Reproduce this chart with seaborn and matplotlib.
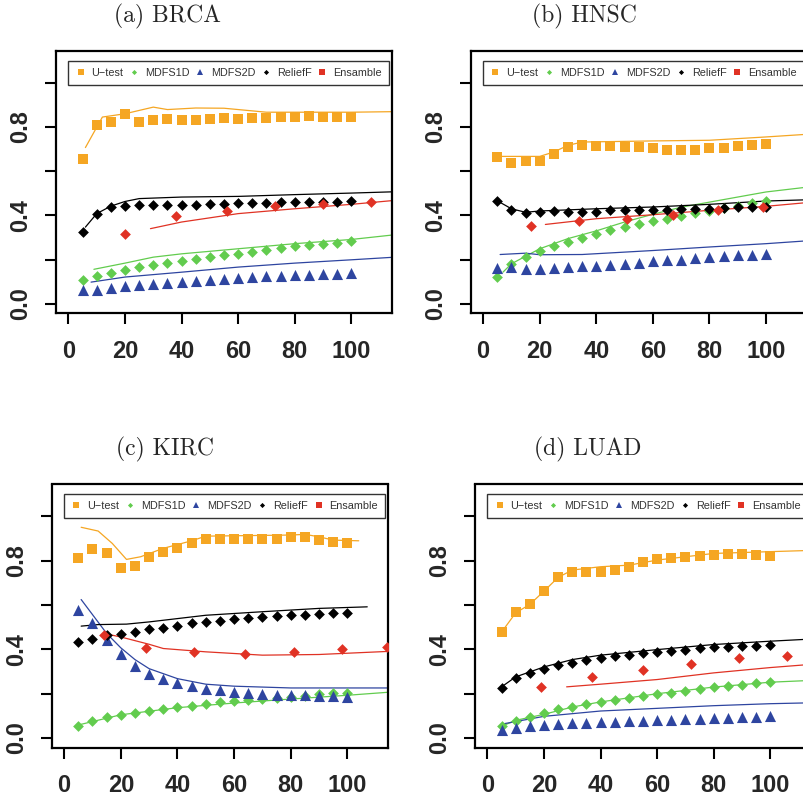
import matplotlib
matplotlib.use("Agg")
import matplotlib.pyplot as plt
from matplotlib.lines import Line2D
import seaborn as sns

# -----------------------------
# DATA
# -----------------------------

steps = list(range(5, 105, 5))

methods = ["U\u2212test", "MDFS1D", "MDFS2D", "ReliefF", "Ensamble"]

# (a) BRCA
brca_utest = [0.654, 0.808, 0.821, 0.859, 0.821, 0.832, 0.836, 0.832, 0.832, 0.836,
              0.841, 0.836, 0.841, 0.842, 0.845, 0.845, 0.850, 0.845, 0.845, 0.845]
brca_mdfs1d = [0.106, 0.125, 0.140, 0.154, 0.166, 0.174, 0.184, 0.195, 0.204, 0.213,
               0.219, 0.226, 0.234, 0.245, 0.252, 0.260, 0.264, 0.270, 0.276, 0.284]
brca_mdfs2d = [0.063, 0.063, 0.071, 0.079, 0.083, 0.088, 0.094, 0.098, 0.103, 0.106,
               0.110, 0.116, 0.121, 0.124, 0.127, 0.130, 0.131, 0.134, 0.137, 0.140]
brca_relieff = [0.326, 0.406, 0.436, 0.441, 0.448, 0.448, 0.448, 0.448, 0.448, 0.453,
                0.453, 0.456, 0.456, 0.456, 0.459, 0.459, 0.460, 0.460, 0.462, 0.465]
brca_ens_x = [20, 38, 56, 73, 90, 107]
brca_ens = [0.316, 0.396, 0.421, 0.442, 0.450, 0.459]

brca_fit_utest = [(6, 0.707), (12, 0.845), (20, 0.860), (30, 0.890), (35, 0.879), (45, 0.886),
                  (55, 0.885), (65, 0.873), (70, 0.867), (100, 0.867), (118, 0.870)]
brca_fit_mdfs1d = [(9, 0.156), (20, 0.184), (30, 0.211), (40, 0.226), (60, 0.249), (80, 0.272),
                   (100, 0.291), (118, 0.316)]
brca_fit_mdfs2d = [(8, 0.098), (20, 0.121), (40, 0.143), (60, 0.166), (80, 0.184), (100, 0.199),
                   (118, 0.213)]
brca_fit_relieff = [(6, 0.347), (10, 0.408), (15, 0.442), (20, 0.463), (25, 0.476), (40, 0.483),
                    (60, 0.486), (80, 0.494), (100, 0.501), (118, 0.508)]
brca_fit_ens = [(29, 0.340), (40, 0.370), (60, 0.408), (80, 0.430), (100, 0.450), (118, 0.471)]

# (b) HNSC
hnsc_utest = [0.664, 0.637, 0.645, 0.645, 0.679, 0.709, 0.717, 0.714, 0.714, 0.709,
              0.709, 0.705, 0.694, 0.694, 0.694, 0.705, 0.705, 0.712, 0.717, 0.722]
hnsc_mdfs1d = [0.121, 0.181, 0.211, 0.238, 0.260, 0.278, 0.297, 0.314, 0.332, 0.346,
               0.359, 0.373, 0.385, 0.397, 0.409, 0.420, 0.432, 0.442, 0.454, 0.463]
hnsc_mdfs2d = [0.162, 0.166, 0.158, 0.158, 0.162, 0.166, 0.169, 0.172, 0.177, 0.181,
               0.186, 0.192, 0.196, 0.199, 0.205, 0.210, 0.214, 0.219, 0.222, 0.225]
hnsc_relieff = [0.466, 0.426, 0.411, 0.414, 0.418, 0.414, 0.414, 0.417, 0.423, 0.423,
                0.423, 0.426, 0.426, 0.427, 0.427, 0.430, 0.435, 0.436, 0.439, 0.439]
hnsc_ens_x = [17, 34, 51, 67, 83, 99]
hnsc_ens = [0.350, 0.376, 0.385, 0.403, 0.423, 0.436]

hnsc_fit_utest = [(5, 0.667), (20, 0.667), (25, 0.687), (30, 0.717), (35, 0.732), (60, 0.737),
                  (80, 0.740), (100, 0.755), (118, 0.770)]
hnsc_fit_mdfs1d = [(7, 0.143), (10, 0.181), (20, 0.249), (30, 0.295), (40, 0.330), (50, 0.370),
                   (60, 0.405), (70, 0.437), (80, 0.460), (90, 0.483), (100, 0.506), (118, 0.533)]
hnsc_fit_mdfs2d = [(6, 0.223), (15, 0.229), (20, 0.222), (35, 0.223), (60, 0.241), (80, 0.257),
                   (100, 0.272), (118, 0.288)]
hnsc_fit_relieff = [(5, 0.466), (10, 0.430), (15, 0.414), (20, 0.420), (40, 0.430), (60, 0.438),
                    (80, 0.450), (100, 0.465), (118, 0.472)]
hnsc_fit_ens = [(22, 0.359), (40, 0.385), (60, 0.403), (80, 0.423), (100, 0.441), (118, 0.462)]

# (c) KIRC
kirc_utest = [0.814, 0.852, 0.834, 0.769, 0.778, 0.815, 0.841, 0.856, 0.881, 0.899,
              0.899, 0.899, 0.899, 0.899, 0.899, 0.907, 0.907, 0.893, 0.884, 0.880]
kirc_mdfs1d = [0.056, 0.078, 0.095, 0.102, 0.113, 0.122, 0.131, 0.139, 0.145, 0.154,
               0.161, 0.167, 0.173, 0.176, 0.181, 0.185, 0.191, 0.197, 0.202, 0.205]
kirc_mdfs2d = [0.580, 0.521, 0.441, 0.377, 0.325, 0.291, 0.268, 0.249, 0.235, 0.223,
               0.215, 0.208, 0.203, 0.197, 0.196, 0.194, 0.193, 0.191, 0.190, 0.187]
kirc_relieff = [0.434, 0.447, 0.467, 0.469, 0.478, 0.490, 0.497, 0.506, 0.517, 0.524,
                0.529, 0.535, 0.541, 0.547, 0.551, 0.554, 0.557, 0.560, 0.563, 0.566]
kirc_ens_x = [14, 29, 46, 64, 81, 98, 114]
kirc_ens = [0.464, 0.405, 0.387, 0.377, 0.386, 0.401, 0.411]

kirc_fit_utest = [(6, 0.951), (12, 0.934), (17, 0.878), (22, 0.806), (27, 0.818), (35, 0.856),
                  (45, 0.890), (50, 0.911), (80, 0.916), (85, 0.919), (90, 0.908), (95, 0.893),
                  (104, 0.890)]
kirc_fit_mdfs1d = [(6, 0.062), (20, 0.105), (40, 0.137), (60, 0.158), (80, 0.176), (100, 0.193),
                   (118, 0.210)]
kirc_fit_mdfs2d = [(6, 0.625), (10, 0.557), (15, 0.472), (20, 0.407), (25, 0.354), (30, 0.313),
                   (40, 0.268), (50, 0.243), (60, 0.234), (80, 0.226), (118, 0.226)]
kirc_fit_relieff = [(6, 0.505), (12, 0.512), (22, 0.514), (30, 0.524), (50, 0.554), (70, 0.570),
                    (90, 0.585), (107, 0.592)]
kirc_fit_ens = [(14, 0.472), (20, 0.456), (30, 0.423), (35, 0.404), (50, 0.389), (70, 0.374),
                (90, 0.377), (118, 0.393)]

# (d) LUAD
luad_utest = [0.478, 0.568, 0.603, 0.663, 0.726, 0.749, 0.749, 0.749, 0.756, 0.773,
              0.794, 0.808, 0.812, 0.817, 0.823, 0.826, 0.830, 0.830, 0.826, 0.821]
luad_mdfs1d = [0.056, 0.075, 0.095, 0.113, 0.130, 0.142, 0.152, 0.161, 0.170, 0.181,
               0.188, 0.197, 0.205, 0.214, 0.221, 0.229, 0.237, 0.241, 0.247, 0.253]
luad_mdfs2d = [0.038, 0.045, 0.053, 0.059, 0.063, 0.068, 0.069, 0.071, 0.074, 0.075,
               0.078, 0.080, 0.081, 0.084, 0.086, 0.089, 0.090, 0.093, 0.096, 0.098]
luad_relieff = [0.226, 0.273, 0.292, 0.313, 0.328, 0.340, 0.353, 0.360, 0.368, 0.375,
                0.383, 0.390, 0.395, 0.399, 0.405, 0.410, 0.413, 0.416, 0.417, 0.422]
luad_ens_x = [19, 37, 55, 72, 89, 106]
luad_ens = [0.231, 0.276, 0.306, 0.334, 0.360, 0.372]

luad_fit_utest = [(5, 0.478), (10, 0.565), (15, 0.603), (20, 0.663), (25, 0.725), (30, 0.758),
                  (40, 0.773), (50, 0.780), (60, 0.803), (80, 0.833), (100, 0.841), (118, 0.848)]
luad_fit_mdfs1d = [(5, 0.053), (10, 0.080), (20, 0.107), (30, 0.140), (40, 0.163), (60, 0.200),
                   (80, 0.230), (100, 0.252), (118, 0.262)]
luad_fit_mdfs2d = [(6, 0.065), (20, 0.098), (40, 0.122), (60, 0.134), (80, 0.146), (100, 0.155),
                   (118, 0.160)]
luad_fit_relieff = [(5, 0.231), (10, 0.276), (20, 0.321), (30, 0.354), (40, 0.374), (60, 0.399),
                    (80, 0.422), (100, 0.437), (118, 0.449)]
luad_fit_ens = [(28, 0.231), (40, 0.243), (60, 0.264), (80, 0.294), (100, 0.318), (118, 0.336)]

panel_titles = ["(a) BRCA", "(b) HNSC", "(c) KIRC", "(d) LUAD"]

# -----------------------------
# STYLE
# -----------------------------

sns.set_style("white")
plt.rcParams['font.family'] = ['Liberation Sans', 'DejaVu Sans']

colors = ["#F5A623", "#62CC4E", "#2E45A0", "#000000", "#E03224"]
markers = ["s", "D", "^", "D", "D"]
sizes = [54, 30, 64, 30, 30]
legend_markers = ["s", "D", "^", "D", "s"]
legend_sizes = [4, 2.6, 4.2, 2.6, 4]

W, H = 804, 798
# axes boxes in pixels: left, top, width, height
boxes = [(56, 51, 336, 262.5), (470.7, 51, 336, 262.5),
         (51.7, 484.5, 336.5, 263.3), (475, 484.5, 336, 263.3)]
title_pos = [(168, 16), (584, 16), (165, 449), (588, 449)]

fig = plt.figure(figsize=(W / 100, H / 100), dpi=100)


def draw_panel(ax, point_sets, fit_sets):
    for i, (xs, ys) in enumerate(point_sets):
        sns.scatterplot(x=xs, y=ys, ax=ax, marker=markers[i], s=sizes[i],
                        color=colors[i], linewidth=0, legend=False, zorder=3)
    for i, fit in enumerate(fit_sets):
        fx = [p[0] for p in fit]
        fy = [p[1] for p in fit]
        sns.lineplot(x=fx, y=fy, ax=ax, color=colors[i], linewidth=0.9,
                     sort=False, estimator=None, legend=False, zorder=2)

    ax.set_xlim(-4.4, 114.4)
    ax.set_ylim(-0.044, 1.144)
    ax.set_xticks([0, 20, 40, 60, 80, 100])
    ax.set_yticks([0.0, 0.2, 0.4, 0.6, 0.8, 1.0])
    ax.set_yticklabels(["0.0", "", "0.4", "", "0.8", ""], rotation=90, va="center")
    ax.tick_params(axis="both", direction="out", length=8, width=1.5,
                   labelsize=17, color="black", left=True, bottom=True)
    ax.tick_params(axis="x", pad=11)
    ax.tick_params(axis="y", pad=9)
    for lbl in ax.get_xticklabels() + ax.get_yticklabels():
        lbl.set_fontweight("bold")
    for sp in ax.spines.values():
        sp.set_visible(True)
        sp.set_linewidth(1.6)
        sp.set_color("black")

    handles = [Line2D([], [], marker=legend_markers[i], color=colors[i], linestyle="",
                      markersize=legend_sizes[i], markeredgewidth=0) for i in range(5)]
    leg = ax.legend(handles, methods, ncol=5, mode="expand", loc="upper left",
                    bbox_to_anchor=(0.036, 0.963, 0.955, 0.0), borderaxespad=0,
                    fontsize=7.8, frameon=True, fancybox=False, framealpha=1,
                    edgecolor="#333333", handlelength=1.0, handletextpad=0.5,
                    borderpad=0.65, labelcolor="#333333")
    leg.get_frame().set_linewidth(1.0)


panels = [
    ([(steps, brca_utest), (steps, brca_mdfs1d), (steps, brca_mdfs2d), (steps, brca_relieff),
      (brca_ens_x, brca_ens)],
     [brca_fit_utest, brca_fit_mdfs1d, brca_fit_mdfs2d, brca_fit_relieff, brca_fit_ens]),
    ([(steps, hnsc_utest), (steps, hnsc_mdfs1d), (steps, hnsc_mdfs2d), (steps, hnsc_relieff),
      (hnsc_ens_x, hnsc_ens)],
     [hnsc_fit_utest, hnsc_fit_mdfs1d, hnsc_fit_mdfs2d, hnsc_fit_relieff, hnsc_fit_ens]),
    ([(steps, kirc_utest), (steps, kirc_mdfs1d), (steps, kirc_mdfs2d), (steps, kirc_relieff),
      (kirc_ens_x, kirc_ens)],
     [kirc_fit_utest, kirc_fit_mdfs1d, kirc_fit_mdfs2d, kirc_fit_relieff, kirc_fit_ens]),
    ([(steps, luad_utest), (steps, luad_mdfs1d), (steps, luad_mdfs2d), (steps, luad_relieff),
      (luad_ens_x, luad_ens)],
     [luad_fit_utest, luad_fit_mdfs1d, luad_fit_mdfs2d, luad_fit_relieff, luad_fit_ens]),
]

for k, (pts, fits) in enumerate(panels):
    l, t, w, h = boxes[k]
    ax = fig.add_axes([l / W, 1 - (t + h) / H, w / W, h / H])
    draw_panel(ax, pts, fits)
    tx, ty = title_pos[k]
    fig.text(tx / W, 1 - ty / H, panel_titles[k], ha="center", va="center",
             fontsize=17, family=["cmr10", "DejaVu Serif"])

fig.savefig("out.png", dpi=100)
